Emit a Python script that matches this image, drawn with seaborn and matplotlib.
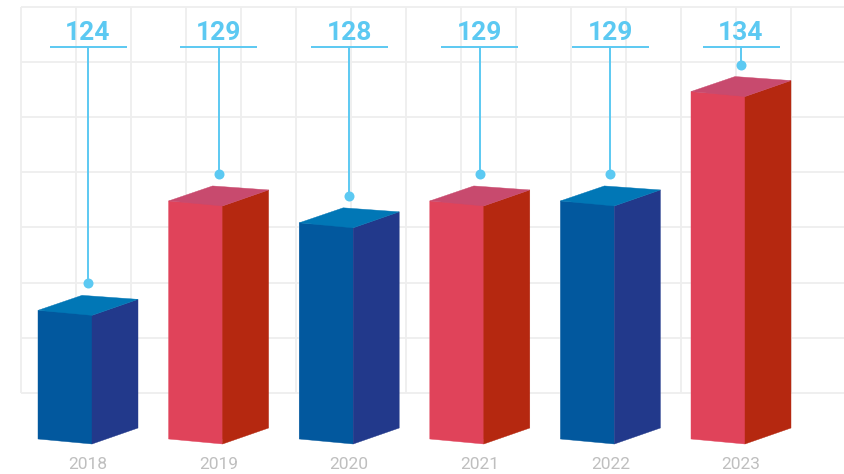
import numpy as np
import pandas as pd
import matplotlib
matplotlib.use("Agg")
import matplotlib.pyplot as plt
import seaborn as sns
from matplotlib.patches import Polygon
from matplotlib.transforms import IdentityTransform

# ---- data ----
years = ["2018", "2019", "2020", "2021", "2022", "2023"]
values = [124, 129, 128, 129, 129, 134]
value_labels = ["124", "129", "128", "129", "129", "134"]
front_colors = ["#02589E", "#E0435A", "#02589E", "#E0435A", "#02589E", "#E0435A"]
side_colors = ["#22398B", "#B52810", "#22398B", "#B52810", "#22398B", "#B52810"]
top_colors = ["#0177B6", "#C84A6E", "#0177B6", "#C84A6E", "#0177B6", "#C84A6E"]
label_color = "#5CC9F2"

# ---- figure ----
W, H, DPI = 844, 474, 100
sns.set_theme(style="white")
plt.rcParams["font.family"] = ["Roboto", "DejaVu Sans"]

fig = plt.figure(figsize=(W / DPI, H / DPI), dpi=DPI)
fig.patch.set_facecolor("white")

# decorative background grid (pixel coordinates)
bg = fig.add_axes([0, 0, 1, 1], zorder=0)
bg.set_xlim(0, W)
bg.set_ylim(H, 0)
bg.axis("off")
gx = 20.7 + 55.03 * np.arange(15)
gy = 7 + 55.1 * np.arange(8)
for x in gx:
    bg.plot([x, x], [gy[0], gy[-1]], color="#EEEEEE", lw=1.3, solid_capstyle="butt")
for y in gy:
    bg.plot([gx[0], W], [y, y], color="#EEEEEE", lw=1.3, solid_capstyle="butt")

# main axes
base_px = 439          # pixel row of the bar baseline
step = 130.6           # pixels between categories
x_first = 88           # pixel column of first category
y_min = 118.12
ppu = 21.88            # pixels per value unit
ax = fig.add_axes([0, (H - base_px) / H, 1, base_px / H], zorder=1)
ax.patch.set_alpha(0)

df = pd.DataFrame({"year": years, "value": values})
sns.barplot(data=df, x="year", y="value", hue="year", palette=front_colors,
            width=100 / step, saturation=1, legend=False, ax=ax, zorder=2)

ax.set_xlim(-x_first / step, (W - x_first) / step)
ax.set_ylim(y_min, y_min + base_px / ppu)
for s in ax.spines.values():
    s.set_visible(False)
ax.set_yticks([])
ax.set_xlabel("")
ax.set_ylabel("")
ax.tick_params(axis="x", length=0, pad=13, labelsize=12.5, labelcolor="#BFBFBF")

# ---- 3D faces built from the seaborn bar geometry ----
tilt = 5
back_dx, back_dy = 44, 15
side_dy = 16
front_frac = 0.54
for i, p in enumerate(ax.patches):
    x0d, wd = p.get_x(), p.get_width()
    top_d = p.get_y() + p.get_height()
    X0, Ytop = ax.transData.transform((x0d, top_d))
    Xend, Ybase = ax.transData.transform((x0d + wd, y_min))
    X1 = X0 + (Xend - X0) * front_frac
    ds = Xend - X1
    p.set_width(wd * front_frac)
    front = [(X0, Ytop), (X1, Ytop - tilt), (X1, Ybase - tilt), (X0, Ybase)]
    side = [(X1, Ytop - tilt), (X1 + ds, Ytop - tilt + side_dy),
            (X1 + ds, Ybase - tilt + side_dy), (X1, Ybase - tilt)]
    top = [(X0, Ytop), (X1, Ytop - tilt), (X1 + ds, Ytop - tilt + side_dy),
           (X0 + back_dx, Ytop + back_dy)]
    for verts, col, z in [(front, front_colors[i], 3), (side, side_colors[i], 3),
                          (top, top_colors[i], 4)]:
        poly = Polygon(verts, closed=True, facecolor=col, edgecolor=col, lw=0.3,
                       transform=IdentityTransform(), zorder=z)
        ax.add_artist(poly)
        poly.set_clip_on(False)

# ---- value callouts ----
line_y = y_min + (base_px - 47) / ppu
text_y = y_min + (base_px - 40.5) / ppu
half = 38.5 / step
for i, (v, lab) in enumerate(zip(values, value_labels)):
    dot_y = v + 27 / ppu
    ax.plot([i, i], [dot_y, line_y], color=label_color, lw=1.4, zorder=5,
            clip_on=False, solid_capstyle="butt")
    ax.plot([i - half, i + half], [line_y, line_y], color=label_color, lw=1.4,
            zorder=5, clip_on=False, solid_capstyle="butt")
    ax.plot([i], [dot_y], "o", ms=7.2, color=label_color, mec="none", zorder=6,
            clip_on=False)
    ax.text(i, text_y, lab, ha="center", va="baseline", fontsize=19,
            fontweight="bold", color=label_color, zorder=6)

fig.savefig("out.png", dpi=DPI, facecolor="white")
